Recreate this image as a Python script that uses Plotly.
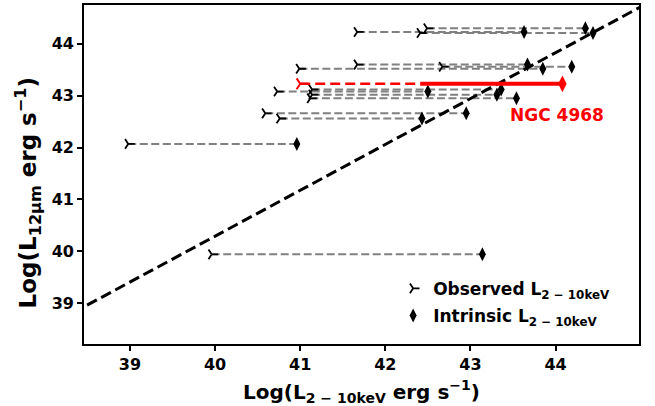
import plotly.graph_objects as go

# ---- data ----
obs_x = [41.67, 42.41, 42.49, 41.67, 40.99, 42.67, 40.73, 41.14, 41.14, 41.12, 40.59, 40.76, 38.98, 39.96]
intr_x = [43.63, 44.44, 44.35, 43.67, 43.85, 44.19, 42.50, 43.36, 43.31, 43.54, 42.95, 42.43, 40.96, 43.14]
l12 = [44.23, 44.21, 44.30, 43.60, 43.52, 43.56, 43.08, 43.12, 43.02, 42.95, 42.66, 42.56, 42.07, 39.94]

ngc_obs = 41.00
ngc_mid = 42.41
ngc_intr = 44.08
ngc_l12 = 43.23
ngc_label = "NGC 4968"

fit_intercept = 4.89
fit_slope = 0.885
fit_x = [38.0, 45.5]

x_ticks = [39, 40, 41, 42, 43, 44]
y_ticks = [39, 40, 41, 42, 43, 44]
x_range = [38.46, 44.98]
y_range = [38.21, 44.75]

FONT = "DejaVu Sans"

fig = go.Figure()

# gray dashed connectors
seg_x, seg_y = [], []
for xo, xi, y in zip(obs_x, intr_x, l12):
    seg_x += [xo, xi, None]
    seg_y += [y, y, None]
fig.add_trace(go.Scatter(x=seg_x, y=seg_y, mode="lines",
                         line=dict(color="#808080", width=2, dash="8px,3.5px"),
                         showlegend=False, hoverinfo="skip"))

# relation line
fig.add_trace(go.Scatter(x=fit_x, y=[fit_intercept + fit_slope * v for v in fit_x], mode="lines",
                         line=dict(color="black", width=3, dash="11px,5px"),
                         showlegend=False, hoverinfo="skip"))

# markers
fig.add_trace(go.Scatter(x=obs_x, y=l12, mode="markers", name="Observed L<sub>2 \u2212 10keV</sub>",
                         legendgroup="a",
                         marker=dict(symbol="y-right", size=8, line=dict(color="black", width=1.8), color="black")))
fig.add_trace(go.Scatter(x=intr_x, y=l12, mode="markers", name="Intrinsic L<sub>2 \u2212 10keV</sub>",
                         legendgroup="b",
                         marker=dict(symbol="diamond-tall", size=10, color="black", line=dict(width=0))))

# NGC 4968
fig.add_trace(go.Scatter(x=[ngc_obs, ngc_mid], y=[ngc_l12, ngc_l12], mode="lines",
                         line=dict(color="red", width=2.6, dash="10px,5px"), showlegend=False, hoverinfo="skip"))
fig.add_trace(go.Scatter(x=[ngc_mid, ngc_intr], y=[ngc_l12, ngc_l12], mode="lines",
                         line=dict(color="red", width=4), showlegend=False, hoverinfo="skip"))
fig.add_trace(go.Scatter(x=[ngc_obs], y=[ngc_l12], mode="markers", showlegend=False,
                         marker=dict(symbol="y-right", size=9, line=dict(color="red", width=2), color="red")))
fig.add_trace(go.Scatter(x=[ngc_intr], y=[ngc_l12], mode="markers", showlegend=False,
                         marker=dict(symbol="diamond-tall", size=12, color="red", line=dict(width=0))))

fig.add_annotation(x=44.02, y=42.63, text="<b>" + ngc_label + "</b>", showarrow=False,
                   font=dict(family=FONT, size=17, color="red"))

# y-axis title (placed as a rotated annotation to match the reference position)
fig.add_annotation(xref="paper", yref="paper", x=-0.101, y=0.447, xanchor="center", yanchor="middle",
                   text="<b>Log(L<sub>12\u03bcm</sub> erg s<sup>\u22121</sup>)</b>", textangle=-90,
                   showarrow=False, font=dict(family=FONT, size=23, color="black"))

axis_common = dict(showline=True, linecolor="black", linewidth=1.6, mirror=True,
                   ticks="outside", ticklen=5, tickwidth=1.5, tickcolor="black",
                   showgrid=False, zeroline=False,
                   tickfont=dict(family=FONT, size=16, color="black", weight="bold"))

fig.update_xaxes(range=x_range, tickvals=x_ticks, ticktext=[str(t) for t in x_ticks],
                 title=dict(text="<b>Log(L<sub>2 \u2212 10keV</sub> erg s<sup>\u22121</sup>)</b>",
                            font=dict(family=FONT, size=20, color="black")),
                 **axis_common)
fig.update_yaxes(range=y_range, tickvals=y_ticks, ticktext=[str(t) for t in y_ticks],
                 **axis_common)

fig.update_layout(
    width=655, height=406,
    margin=dict(l=84, r=16, t=3, b=62),
    plot_bgcolor="white", paper_bgcolor="white",
    font=dict(family=FONT, color="black"),
    legend=dict(x=0.557, y=0.216, xanchor="left", yanchor="top",
                font=dict(family=FONT, size=17, color="black", weight="bold"),
                bgcolor="rgba(255,255,255,0)", borderwidth=0, tracegroupgap=2),
)

fig.write_html("out.html")
